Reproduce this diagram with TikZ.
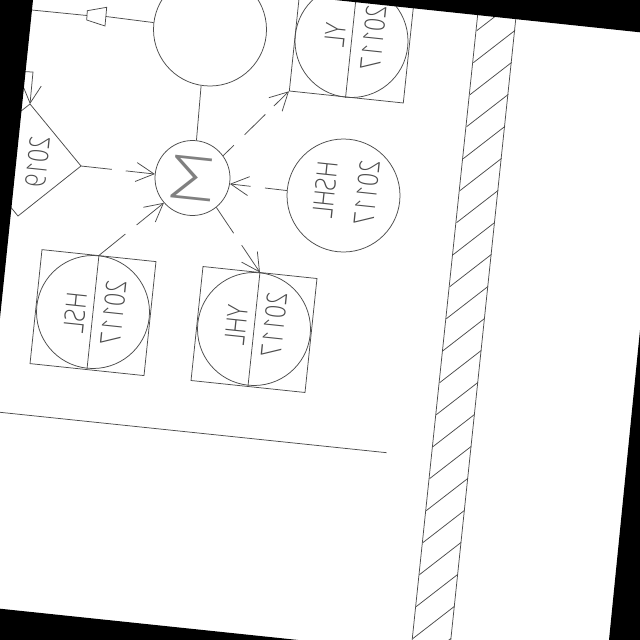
\documentclass[tikz,border=0pt]{standalone}
\usepackage{fontspec}
\newfontfamily\cadfont{Open Sans Light}
\usetikzlibrary{arrows.meta}

\tikzset{
  disc/.style={circle, draw, inner sep=0pt, minimum size=#1},
  frame/.style={rectangle, draw, inner sep=0pt, minimum size=114.6pt, rotate=-6},
  lbl/.style={inner sep=0pt, text=black!70, font=\cadfont\fontsize{28}{28}\selectfont,
    cm={-0.085,-0.806,-0.995,0.105,(0,0)}},
  sumlbl/.style={inner sep=0pt, text=black!50, font=\cadfont\fontsize{60}{60}\selectfont,
    cm={1.3,-0.137,0.105,0.995,(0,0)}},
  feed/.style={-{Straight Barb[length=18pt,width=19pt]}}
}

\begin{document}
\begin{tikzpicture}[x=1pt, y=-1pt, line width=0.75pt, color=black!70]
      \clip (0, 0) rectangle (640, 640);
      \fill[white] (0, 0) rectangle (640, 640);

      % upper row
      \node[disc=113pt] (Mix) at (210, 29.5) {};
      \node[disc=75pt] (Sum) at (192.5, 178) {};
      \node[sumlbl] (SumTxt) at (192.5, 178) {Σ};
      \node[disc=113pt] (HSH) at (343.5, 195.5) {};
      \node[frame] (YLBox) at (352.3, 40) {};
      \node[disc=113pt] (YL) at (351.5, 41) {};

      % lower row
      \node[frame] (HSLBox) at (93, 312.6) {};
      \node[disc=113pt] (HSL) at (93, 312) {};
      \node[frame] (YHLBox) at (254, 329.5) {};
      \node[disc=113pt] (YHL) at (254, 329) {};

      \draw (YL.84) -- (YL.264);
      \draw (HSL.84) -- (HSL.264);
      \draw (YHL.84) -- (YHL.264);

      \node[lbl] (YLDate) at (373.3, 38) {20117};
      \node[lbl] (YLName) at (335, 35) {YL};
      \node[lbl] (HSHDate) at (366.7, 193) {20117};
      \node[lbl] (HSHName) at (325, 190) {HSHL};
      \node[lbl] (HSLDate) at (113.3, 313) {20117};
      \node[lbl] (HSLName) at (75, 313) {HSL};
      \node[lbl] (YHLDate) at (274, 325) {20117};
      \node[lbl] (YHLName) at (236, 325) {YHL};

      % source at the left
      \coordinate (SrcTop) at (30, 104);
      \coordinate (SrcRight) at (81, 166);
      \draw (SrcTop) -- (SrcRight) -- (18, 216) -- (-33, 154) -- cycle;
      \node[lbl] (SrcTxt) at (37.5, 162) {2019};
      \coordinate (InA) at (20, 71.5);
      \coordinate (InB) at (33, 72);
      \draw[feed] (InA) -- (InB) -- (SrcTop);

      % valve
      \coordinate (ValveOut) at (106, 16.5);
      \coordinate (ValveIn) at (87, 15.5);
      \coordinate (FarEnd) at (31.7, 10);
      \draw (106.7, 7.3) -- (105, 26) -- (86.7, 20) -- (87.3, 10.7) -- cycle;
      \draw (Mix.173) -- (ValveOut);
      \draw (ValveIn) -- (FarEnd);

      \draw (Sum.84.7) -- (Mix.261.3);

      % feeds
      \draw[feed, dash pattern=on 31pt off 14pt] (SrcRight) -- (Sum.174.7);
      \draw[feed, dash pattern=on 22pt off 14.5pt] (HSH.175) -- (Sum.-9);
      \draw[feed, dash pattern=on 34pt off 14.5pt] (HSL.84.6) -- (Sum.221);
      \draw[feed, dash pattern=on 31pt off 14.5pt] (Sum.-51.3) -- (YHL.84);
      \draw[feed, dash pattern=on 15pt off 15pt on 29pt off 12pt on 40pt] (Sum.36) -- (YLBox.south west);

      % divider
      \coordinate (LineA) at (0, 412.3);
      \coordinate (LineB) at (386.7, 452.7);
      \draw (LineA) -- (LineB);

      % wall
      \draw (481, -17) -- (409, 670);
      \draw (519, -12) -- (447, 676);
      \foreach \k in {0,...,20}
        \draw (476.7-3.37*\k, 30.7+32*\k) -- ++(41.7, -32.3);

      % outside of the sheet
      \fill[black] (0, 0) -- (33, 0) -- (0, 318) -- cycle;
      \fill[black] (335, 0) -- (640, 32.3) -- (640, 0) -- cycle;
      \fill[black] (640, 330) -- (609, 640) -- (640, 640) -- cycle;
      \fill[black] (0, 608.7) -- (298.3, 640) -- (0, 640) -- cycle;
\end{tikzpicture}
\end{document}
